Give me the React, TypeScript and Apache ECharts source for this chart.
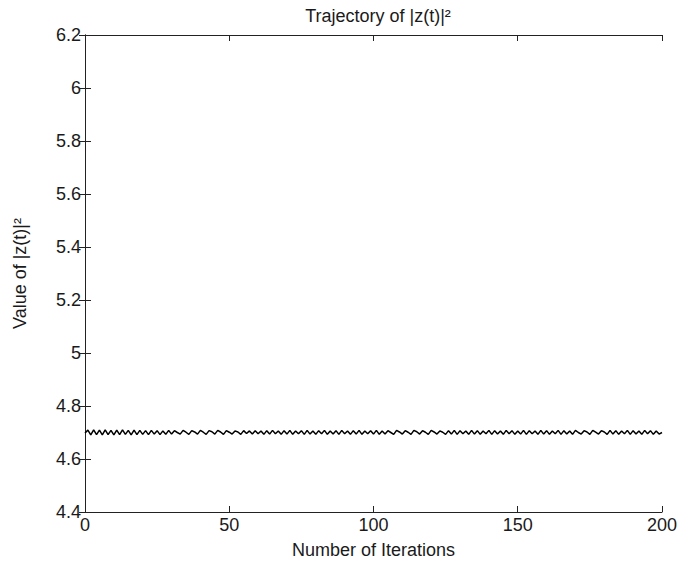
import React, { useEffect, useRef } from "react";
import * as echarts from "echarts";

const titleText = "Trajectory of |z(t)|²";
const xName = "Number of Iterations";
const yName = "Value of |z(t)|²";

const xTicks = [0, 50, 100, 150, 200];
const yTicks = [4.4, 4.6, 4.8, 5, 5.2, 5.4, 5.6, 5.8, 6, 6.2];

// |z(t)|^2 at iterations 0..200
const zSquared = [
  4.698, 4.709, 4.691, 4.71, 4.692, 4.709, 4.691, 4.71, 4.692, 4.708,
  4.691, 4.709, 4.692, 4.71, 4.693, 4.708, 4.691, 4.709, 4.692, 4.708,
  4.693, 4.707, 4.692, 4.708, 4.694, 4.707, 4.692, 4.706, 4.693, 4.708,
  4.694, 4.707, 4.7, 4.694, 4.708, 4.701, 4.693, 4.707, 4.702, 4.694,
  4.708, 4.701, 4.693, 4.707, 4.703, 4.694, 4.708, 4.702, 4.693, 4.707,
  4.701, 4.694, 4.706, 4.702, 4.693, 4.707, 4.696, 4.706, 4.694, 4.707,
  4.695, 4.706, 4.693, 4.707, 4.694, 4.708, 4.695, 4.706, 4.693, 4.707,
  4.694, 4.708, 4.693, 4.706, 4.695, 4.707, 4.693, 4.708, 4.694, 4.706,
  4.693, 4.707, 4.695, 4.708, 4.693, 4.706, 4.694, 4.707, 4.693, 4.708,
  4.695, 4.706, 4.693, 4.707, 4.694, 4.708, 4.693, 4.706, 4.695, 4.707,
  4.694, 4.708, 4.693, 4.706, 4.694, 4.707, 4.7, 4.693, 4.708, 4.702,
  4.694, 4.707, 4.701, 4.693, 4.708, 4.703, 4.694, 4.707, 4.701, 4.693,
  4.708, 4.702, 4.694, 4.706, 4.701, 4.693, 4.707, 4.694, 4.708, 4.693,
  4.707, 4.695, 4.706, 4.693, 4.708, 4.694, 4.707, 4.693, 4.706, 4.695,
  4.708, 4.693, 4.707, 4.694, 4.706, 4.693, 4.708, 4.695, 4.707, 4.693,
  4.706, 4.694, 4.708, 4.693, 4.707, 4.695, 4.706, 4.693, 4.708, 4.694,
  4.707, 4.693, 4.706, 4.695, 4.708, 4.693, 4.707, 4.694, 4.706, 4.693,
  4.708, 4.7, 4.694, 4.707, 4.702, 4.693, 4.708, 4.701, 4.694, 4.707,
  4.702, 4.693, 4.708, 4.694, 4.707, 4.693, 4.706, 4.695, 4.708, 4.693,
  4.707, 4.694, 4.706, 4.693, 4.708, 4.695, 4.707, 4.693, 4.706, 4.694,
  4.7,
];

const FONT = "'Liberation Sans', Arial, Helvetica, sans-serif";
const TXT = "#1a1a1a";
const FS = 18;

export default function App() {
  const ref = useRef<HTMLDivElement>(null);

  useEffect(() => {
    if (!ref.current) return;
    const chart = echarts.init(ref.current, undefined, { renderer: "svg" });
    const axisLine = { show: true, lineStyle: { color: "#222", width: 1 } };
    const tick = { show: true, inside: true, length: 6, lineStyle: { color: "#222", width: 1 } };
    const label = { color: TXT, fontSize: FS, fontFamily: FONT };
    chart.setOption({
      animation: false,
      backgroundColor: "#ffffff",
      title: {
        text: titleText,
        left: 373,
        textAlign: "center",
        top: 2,
        textStyle: { color: TXT, fontSize: FS, fontWeight: "normal", fontFamily: FONT },
      },
      grid: { left: 85, right: 18, top: 35, bottom: 58, containLabel: false },
      xAxis: [
        {
          type: "value",
          min: xTicks[0],
          max: xTicks[xTicks.length - 1],
          interval: 50,
          position: "bottom",
          axisLine,
          axisTick: tick,
          splitLine: { show: false },
          axisLabel: { ...label, margin: 4, formatter: (v: number) => String(v) },
          name: xName,
          nameLocation: "middle",
          nameGap: 29,
          nameTextStyle: { color: TXT, fontSize: FS, fontFamily: FONT },
        },
        {
          type: "value",
          min: xTicks[0],
          max: xTicks[xTicks.length - 1],
          interval: 50,
          position: "top",
          axisLine,
          axisTick: tick,
          splitLine: { show: false },
          axisLabel: { show: false },
        },
      ],
      yAxis: [
        {
          type: "value",
          min: yTicks[0],
          max: yTicks[yTicks.length - 1],
          interval: 0.2,
          position: "left",
          axisLine,
          axisTick: tick,
          splitLine: { show: false },
          axisLabel: {
            ...label,
            margin: 4,
            formatter: (v: number) => String(Math.round(v * 10) / 10),
          },
          name: yName,
          nameLocation: "middle",
          nameGap: 56,
          nameRotate: 90,
          nameTextStyle: { color: TXT, fontSize: FS, fontFamily: FONT },
        },
        {
          type: "value",
          min: yTicks[0],
          max: yTicks[yTicks.length - 1],
          interval: 0.2,
          position: "right",
          axisLine,
          axisTick: tick,
          splitLine: { show: false },
          axisLabel: { show: false },
        },
      ],
      series: [
        {
          type: "line",
          xAxisIndex: 0,
          yAxisIndex: 0,
          data: zSquared.map((v, i) => [i, v]),
          showSymbol: false,
          lineStyle: { color: "#000", width: 1.5 },
        },
      ],
    });
    return () => chart.dispose();
  }, []);

  return (
    <div
      ref={ref}
      style={{ position: "absolute", left: 0, top: 0, width: 680, height: 570 }}
    />
  );
}
